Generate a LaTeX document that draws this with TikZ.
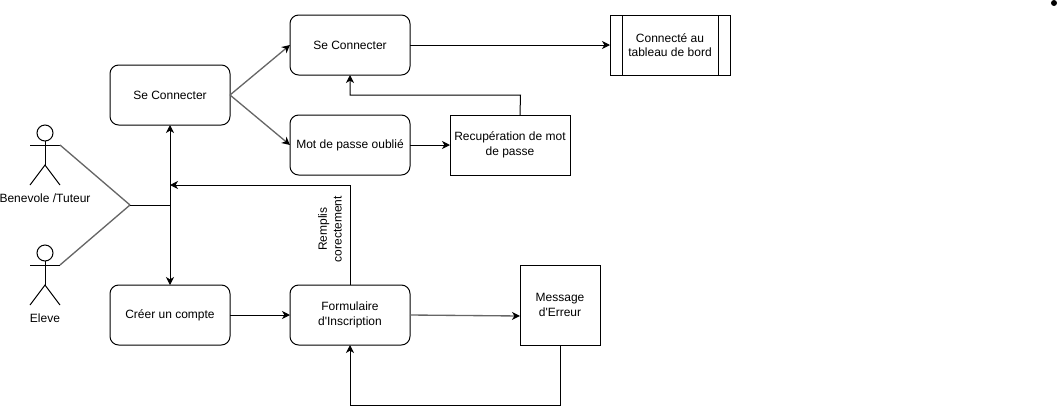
\documentclass[tikz,border=0pt]{standalone}
\usepackage{fontspec}
\setmainfont{Liberation Sans}
\usetikzlibrary{arrows.meta}

\tikzset{
    >={Stealth[length=6pt,width=6pt,inset=1.8pt]},
    boite/.style={draw=black, line width=0.75pt, inner sep=0pt, outer sep=0pt, align=center, font=\fontsize{9}{11}\selectfont},
    arrondi/.style={boite, rounded corners=6.5pt, minimum width=90pt, minimum height=45pt},
    carre/.style={boite, minimum width=90pt, minimum height=45pt},
    bloc/.style={execute at begin node=\rule{0pt}{9.5pt}},
    texte/.style={inner sep=0pt, outer sep=0pt, align=center, font=\fontsize{9}{11}\selectfont},
    lien/.style={line width=0.75pt, black},
    gris/.style={line width=1pt, black!60},
    grisfleche/.style={gris, -{Stealth[length=6pt,width=6pt,inset=1.8pt,color=black]}},
}

\begin{document}
\begin{tikzpicture}[x=0.75pt, y=-0.75pt]
    \useasboundingbox (0,0) rectangle (1057,415);

    % rounded boxes
    \node[arrondi] (connexion) at (170,95) {Se Connecter};
    \node[arrondi] (seconnecter) at (350,45) {Se Connecter};
    \node[arrondi] (oublie) at (350,145) {Mot de passe oublié};
    \node[arrondi] (creer) at (170,315) {Créer un compte};
    \node[arrondi, bloc] (formulaire) at (350,315) {Formulaire\\d\textquotesingle Inscription};

    % square boxes
    \node[carre, bloc] (recup) at (510,145) {Recupération de mot\\de passe};
    \node[carre, bloc] (tableau) at (670,45) {Connecté au\\tableau de bord};
    \node[boite, bloc, minimum width=60pt, minimum height=60pt] (erreur) at (560,305) {Message\\d\textquotesingle Erreur};
    \draw[lien] (622,15) -- (622,75);
    \draw[lien] (718,15) -- (718,75);

    % actors
    \foreach \nom/\y/\etiquette in {benevole/0/{Benevole /Tuteur}, eleve/120/Eleve} {
        \draw[lien] (45,133+\y) circle[radius=6pt];
        \draw[lien] (45,141+\y) -- (45,165+\y);
        \draw[lien] (30,145+\y) -- (60,145+\y);
        \draw[lien] (30,185+\y) -- (45,165+\y) -- (60,185+\y);
        \coordinate (\nom) at (60,145+\y);
        \node[texte] (\nom label) at (45,198+\y) {\etiquette};
    }

    % points where the lines meet
    \coordinate (fourche) at (130,205);
    \coordinate (axe) at (170,205);
    \coordinate (retour) at (170,185);

    % lines from the actors
    \draw[gris] (benevole) -- (fourche);
    \draw[gris] (eleve) -- (fourche);
    \draw[lien] (fourche) -- (axe);
    \draw[lien, <->] (connexion) -- (creer);

    % top branch
    \draw[grisfleche] (connexion.east) -- (seconnecter.west);
    \draw[grisfleche] (connexion.east) -- (oublie.west);
    \draw[lien, ->] (seconnecter) -- (tableau);
    \draw[lien, ->] (oublie) -- (recup);
    \draw[lien, ->] ([xshift=7.5pt]recup.north) -- ++(0.5,-20) -| (seconnecter.south);

    % bottom branch
    \draw[lien, ->] (creer) -- (formulaire);
    \draw[lien, ->] (formulaire.north) |- (retour);
    \draw[grisfleche] (formulaire.east) -- ([yshift=-8.25pt]erreur.west);
    \draw[lien, ->] (erreur.south) -- ++(0,60) -| (formulaire.south);

    % label on the way back and stray dot
    \node[texte, rotate=90] (remplis) at (330,229) {Remplis\\corectement};
    \node[fill=black, circle, inner sep=0pt, minimum size=4.5pt] (point) at (1054,3) {};
\end{tikzpicture}
\end{document}
